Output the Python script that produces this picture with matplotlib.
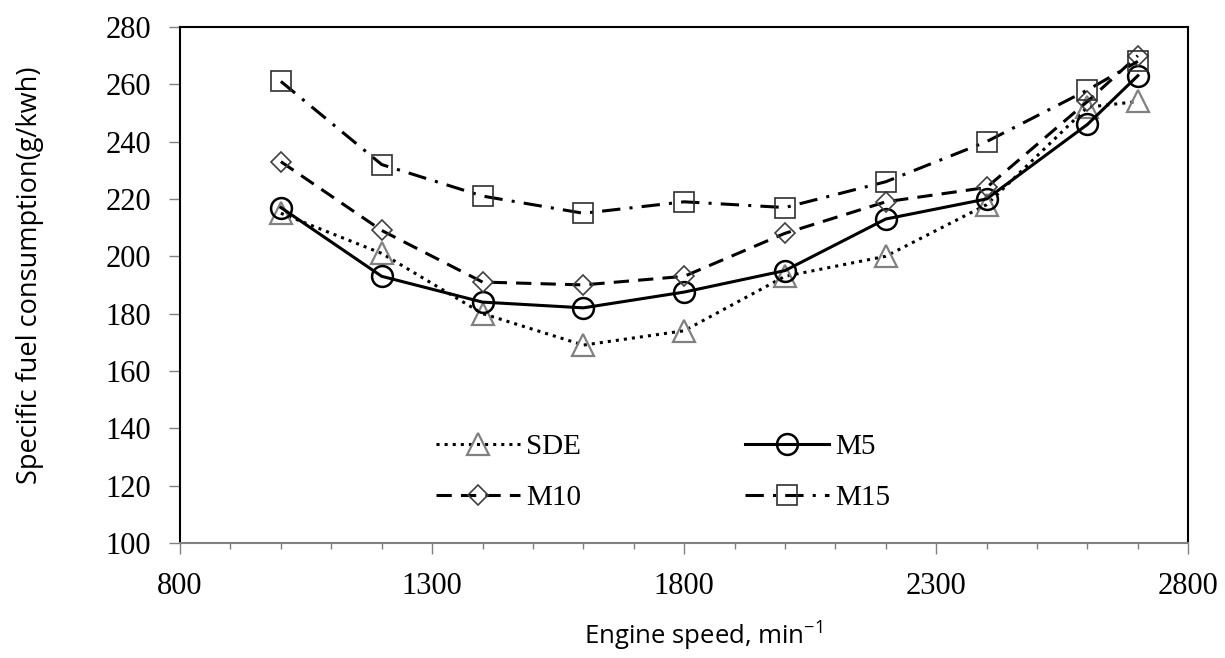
import matplotlib
matplotlib.use("Agg")
import matplotlib.pyplot as plt
from matplotlib.ticker import MultipleLocator, FixedLocator

speed = [1000, 1200, 1400, 1600, 1800, 2000, 2200, 2400, 2600, 2700]
sde = [215, 201, 180, 169, 174, 193, 200, 218, 252, 254]
m5 = [217, 193, 184, 182, 187.5, 195, 213, 220, 246, 263]
m10 = [233, 209, 191, 190, 193, 208, 219, 224, 254, 270]
m15 = [261, 232, 221, 215, 219, 217, 226, 240, 258, 268]
xticks = [800, 1300, 1800, 2300, 2800]

fig = plt.figure(figsize=(12.25, 6.58), dpi=100)
ax = fig.add_axes([0.147, 0.175, 0.823, 0.784])

l1, = ax.plot(speed, sde, linestyle=':', color='black', linewidth=2.2,
              marker='^', markersize=16, markerfacecolor='none',
              markeredgecolor='#808080', markeredgewidth=1.6, label='SDE')
l2, = ax.plot(speed, m5, linestyle='-', color='black', linewidth=2.2,
              marker='o', markersize=15, markerfacecolor='none',
              markeredgecolor='black', markeredgewidth=1.8, label='M5')
l3, = ax.plot(speed, m10, linestyle=(0, (5, 3)), color='black', linewidth=2.2,
              marker='D', markersize=10, markerfacecolor='none',
              markeredgecolor='#404040', markeredgewidth=1.2, label='M10')
l4, = ax.plot(speed, m15, linestyle=(0, (6, 3, 1, 3)), color='black', linewidth=2.2,
              marker='s', markersize=15, markerfacecolor='none',
              markeredgecolor='#303030', markeredgewidth=1.2, label='M15')

ax.set_xlim(800, 2800)
ax.set_ylim(100, 280)
ax.xaxis.set_major_locator(FixedLocator(xticks))
ax.xaxis.set_minor_locator(MultipleLocator(100))
ax.yaxis.set_major_locator(MultipleLocator(20))
ax.tick_params(axis='both', which='major', direction='out', length=8,
               width=1, color='#808080', labelsize=22, pad=13)
ax.tick_params(axis='x', which='minor', direction='out', length=4,
               width=1, color='#808080')
for lab in ax.get_xticklabels() + ax.get_yticklabels():
    lab.set_fontfamily('Liberation Serif')
for sp in ax.spines.values():
    sp.set_linewidth(1.5)
ax.spines['bottom'].set_color('#808080')

ax.set_xlabel('Engine speed, min$^{\\mathregular{-1}}$', fontsize=18.5,
              family='Open Sans', labelpad=12)
ax.xaxis.label.set_x(0.519)
ax.set_ylabel('Specific fuel consumption(g/kwh)', fontsize=19.5,
              family='Open Sans', labelpad=44)
ax.yaxis.label.set_y(0.519)

# legend filled row by row: SDE, M5 / M10, M15
ax.legend([l1, l3, l2, l4], ['SDE', 'M10', 'M5', 'M15'], ncol=2,
          loc='lower center', bbox_to_anchor=(0.479, 0.01),
          frameon=False, prop={'family': 'Liberation Serif', 'size': 21},
          handlelength=2.9, columnspacing=5.6, labelspacing=0.85,
          handletextpad=0.2)

fig.savefig('out.png', dpi=100)
